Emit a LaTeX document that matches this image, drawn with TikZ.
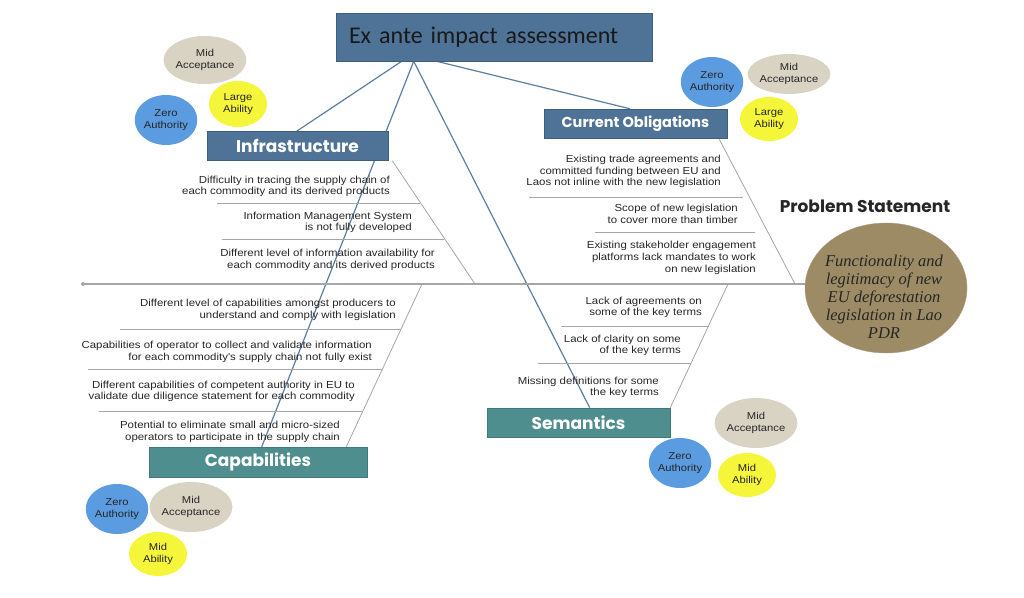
\documentclass[tikz,border=0pt]{standalone}
\usepackage{fontspec}
\setmainfont{Liberation Sans}
\newfontfamily\causefont[FakeStretch=1.12]{Liberation Sans}
\newfontfamily\titlefont{Carlito}
\newfontfamily\headfont{Poppins}
\newfontfamily\ovalfont{Liberation Serif}
\usetikzlibrary{shapes,calc,backgrounds}

\definecolor{steel}{HTML}{4E7396}
\definecolor{steeldark}{HTML}{3E5E7E}
\definecolor{boxteal}{HTML}{4F8E8E}
\definecolor{tealdark}{HTML}{43797A}
\definecolor{linkblue}{HTML}{5A7FA3}
\definecolor{bonegray}{HTML}{A6A6A6}
\definecolor{ovalbrown}{HTML}{9C8B65}
\definecolor{authblue}{HTML}{5B9BE0}
\definecolor{ablyellow}{HTML}{F5F53A}
\definecolor{accbeige}{HTML}{D9D3C4}

\begin{document}
\begin{tikzpicture}[x=1pt, y=-1pt]
    \tikzstyle{every node}=[inner sep=0pt]
    \tikzstyle{link}=[draw=linkblue, line width=1.2pt]
    \tikzstyle{bone}=[draw=bonegray, line width=0.8pt]
    % The category boxes:
    \tikzstyle{headbox}=[draw=steeldark, line width=0.6pt, fill=steel, text=white,
                         minimum height=29pt,
                         font=\headfont\bfseries\fontsize{17}{17}\selectfont]
    \tikzstyle{tealbox}=[headbox, draw=tealdark, fill=boxteal]
    \tikzstyle{cause}=[anchor=east, align=right, text=black!85,
                       font=\causefont\fontsize{10.2}{11.7}\selectfont]
    % The rating bubbles:
    \tikzstyle{bubble}=[ellipse, align=center, text=black!85,
                        font=\causefont\fontsize{10}{11.5}\selectfont]
    \tikzstyle{authority}=[bubble, fill=authblue, minimum width=58pt, minimum height=50pt]
    \tikzstyle{ability}=[bubble, fill=ablyellow, minimum width=58pt, minimum height=44pt]
    \tikzstyle{acceptance}=[bubble, fill=accbeige, minimum width=82pt, minimum height=46pt]

    \useasboundingbox (0,0) rectangle (1024,597);

    \node[draw=steeldark, line width=0.6pt, fill=steel, minimum width=316pt, minimum height=48pt,
          text width=290pt, align=left, text=black!90,
          font=\titlefont\fontsize{24}{24}\selectfont] (title) at (494,37) {Ex ante impact assessment};

    \node[headbox, minimum width=181pt] (infra) at (297.5,146) {Infrastructure};
    \node[headbox, minimum width=183pt, font=\headfont\bfseries\fontsize{14.5}{14.5}\selectfont] (oblig) at (635.5,123.5) {Current Obligations};
    \node[tealbox, minimum width=218pt, minimum height=30pt] (capab) at (258,462) {Capabilities};
    \node[tealbox, minimum width=183pt] (seman) at (578.5,422.5) {Semantics};

    \node[text=black!85, font=\headfont\bfseries\fontsize{17}{17}\selectfont] (pstitle) at (865,206) {Problem Statement};
    \node[ellipse, fill=ovalbrown, draw=ovalbrown!85!white, minimum width=162pt, minimum height=130pt] (problem) at (886,288) {};
    \node[align=center, text=black!85, font=\ovalfont\itshape\fontsize{16.5}{18}\selectfont] (problemtext) at (884,297)
        {Functionality and\\legitimacy of new\\EU deforestation\\legislation in Lao\\PDR};

    % links from the title
    \begin{pgfonlayer}{background}
    \draw[link] ($(title.south west)+(66,0)$) -- ($(infra.north west)+(90,0)$);
    \draw[link] ($(title.south west)+(78,0)$) -- ($(capab.north west)+(113,0)$);
    \draw[link] ($(title.south west)+(78,0)$) -- ($(seman.north west)+(103,0)$);
    \draw[link] ($(title.south west)+(101,0)$) -- ($(oblig.north west)+(86,0)$);
    \end{pgfonlayer}

    % spine and bones
    \coordinate (tail) at (83,284);
    \draw[bone, line width=1.4pt] (tail) -- (tail -| problem.west);
    \fill[bonegray] (tail) circle (2pt);
    \draw[bone] ($(infra.south east)+(4,0)$) -- (475,284);
    \draw[bone] (217,203) -- (420,203);
    \draw[bone] (222,239) -- (444,239);
    \draw[bone] ($(oblig.south east)+(-8,1)$) -- (795,284);
    \draw[bone] (529,197) -- (743,197);
    \draw[bone] (595,232) -- (755,232);
    \draw[bone] (422,284) -- ($(capab.north east)+(-21,0)$);
    \draw[bone] (120,329) -- (401,329);
    \draw[bone] (88,369) -- (382,369);
    \draw[bone] (99,411) -- (363,411);
    \draw[bone] (728,284) -- (seman.north east);
    \draw[bone] (561,326) -- (709,326);
    \draw[bone] (538,363) -- (691,363);

    % causes
    \node[cause] (inf1) at (390,186.5) {Difficulty in tracing the supply chain of\\each commodity and its derived products};
    \node[cause] (inf2) at (412,222.5) {Information Management System\\is not fully developed};
    \node[cause] (inf3) at (435,260) {Different level of information availability for\\each commodity and its derived products};

    \node[cause] (obl1) at (721,171.5) {Existing trade agreements and\\committed funding between EU and\\Laos not inline with the new legislation};
    \node[cause] (obl2) at (738,214) {Scope of new legislation\\to cover more than timber};
    \node[cause] (obl3) at (756,258) {Existing stakeholder engagement\\platforms lack mandates to work\\on new legislation};

    \node[cause] (cap1) at (396,310) {Different level of capabilities amongst producers to\\understand and comply with legislation};
    \node[cause] (cap2) at (372,352) {Capabilities of operator to collect and validate information\\for each commodity's supply chain not fully exist};
    \node[cause] (cap3) at (355,391.5) {Different capabilities of competent authority in EU to\\validate due diligence statement for each commodity};
    \node[cause] (cap4) at (340,432) {Potential to eliminate small and micro-sized\\operators to participate in the supply chain};

    \node[cause] (sem1) at (702,307.5) {Lack of agreements on\\some of the key terms};
    \node[cause] (sem2) at (681,345.5) {Lack of clarity on some\\of the key terms};
    \node[cause] (sem3) at (659,387.5) {Missing definitions for some\\the key terms};

    % ratings
    \node[acceptance, minimum height=48pt] (infacc) at (205,60) {Mid\\Acceptance};
    \node[ability, minimum height=46pt] (infabl) at (238,104) {Large\\Ability};
    \node[authority] (infaut) at (166,120) {Zero\\Authority};

    \node[authority] (oblaut) at (712,82) {Zero\\Authority};
    \node[acceptance, minimum height=40pt] (oblacc) at (789,74) {Mid\\Acceptance};
    \node[ability] (oblabl) at (769,119) {Large\\Ability};

    \node[acceptance, minimum height=50pt] (semacc) at (756,423) {Mid\\Acceptance};
    \node[authority] (semaut) at (680,463) {Zero\\Authority};
    \node[ability] (semabl) at (747,475) {Mid\\Ability};

    \node[authority] (capaut) at (117,509) {Zero\\Authority};
    \node[acceptance, minimum height=50pt] (capacc) at (191,507) {Mid\\Acceptance};
    \node[ability] (capabl) at (158,554) {Mid\\Ability};
\end{tikzpicture}
\end{document}
